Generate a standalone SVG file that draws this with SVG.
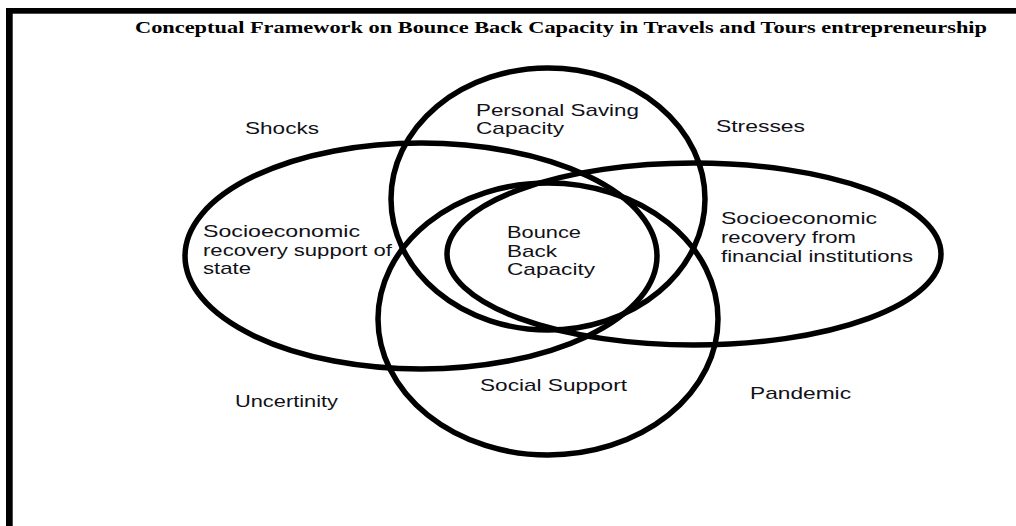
<svg xmlns="http://www.w3.org/2000/svg" width="1016" height="526" viewBox="0 0 1016 526">
  <style>
    .ring { fill: none; stroke: #000; stroke-width: 5.5; }
    .lbl { font-family: "Liberation Sans", Arial, sans-serif; font-size: 17px; fill: #111118; }
    .title { font-family: "Liberation Serif", "Times New Roman", serif; font-size: 17px; font-weight: bold; fill: #000; }
  </style>
  <rect width="1016" height="526" fill="#fff"/>

  <!-- frame: left and top rule -->
  <rect x="6" y="8" width="6.7" height="518" fill="#000"/>
  <rect x="6" y="8" width="1010" height="5.7" fill="#000"/>

  <text class="title" x="135" y="33" textLength="852" lengthAdjust="spacingAndGlyphs">Conceptual Framework on Bounce Back Capacity in Travels and Tours entrepreneurship</text>

  <g id="state-support">
    <ellipse class="ring" cx="421" cy="256" rx="236" ry="113"/>
    <text class="lbl" x="203" y="237" textLength="157" lengthAdjust="spacingAndGlyphs">Socioeconomic</text>
    <text class="lbl" x="203" y="256" textLength="189" lengthAdjust="spacingAndGlyphs">recovery support of</text>
    <text class="lbl" x="203" y="274" textLength="48" lengthAdjust="spacingAndGlyphs">state</text>
  </g>

  <g id="financial-institutions">
    <ellipse class="ring" cx="694" cy="254" rx="247" ry="91"/>
    <text class="lbl" x="721" y="224" textLength="156" lengthAdjust="spacingAndGlyphs">Socioeconomic</text>
    <text class="lbl" x="721" y="243" textLength="135" lengthAdjust="spacingAndGlyphs">recovery from</text>
    <text class="lbl" x="721" y="262" textLength="192" lengthAdjust="spacingAndGlyphs">financial institutions</text>
  </g>

  <g id="personal-saving">
    <ellipse class="ring" cx="548" cy="199" rx="157" ry="131"/>
    <text class="lbl" x="476" y="116" textLength="163" lengthAdjust="spacingAndGlyphs">Personal Saving</text>
    <text class="lbl" x="476" y="134" textLength="88" lengthAdjust="spacingAndGlyphs">Capacity</text>
  </g>

  <g id="social-support">
    <ellipse class="ring" cx="548" cy="319" rx="170" ry="136"/>
    <text class="lbl" x="480" y="391" textLength="147" lengthAdjust="spacingAndGlyphs">Social Support</text>
  </g>

  <g id="bounce-back">
    <text class="lbl" x="507" y="238" textLength="74" lengthAdjust="spacingAndGlyphs">Bounce</text>
    <text class="lbl" x="507" y="257" textLength="50" lengthAdjust="spacingAndGlyphs">Back</text>
    <text class="lbl" x="507" y="275" textLength="88" lengthAdjust="spacingAndGlyphs">Capacity</text>
  </g>

  <g id="shocks"><text class="lbl" x="245" y="134" textLength="74" lengthAdjust="spacingAndGlyphs">Shocks</text></g>
  <g id="stresses"><text class="lbl" x="716" y="132" textLength="89" lengthAdjust="spacingAndGlyphs">Stresses</text></g>
  <g id="uncertinity"><text class="lbl" x="235" y="407" textLength="103" lengthAdjust="spacingAndGlyphs">Uncertinity</text></g>
  <g id="pandemic"><text class="lbl" x="750" y="399" textLength="101" lengthAdjust="spacingAndGlyphs">Pandemic</text></g>

  <g id="connectors"/>
</svg>
